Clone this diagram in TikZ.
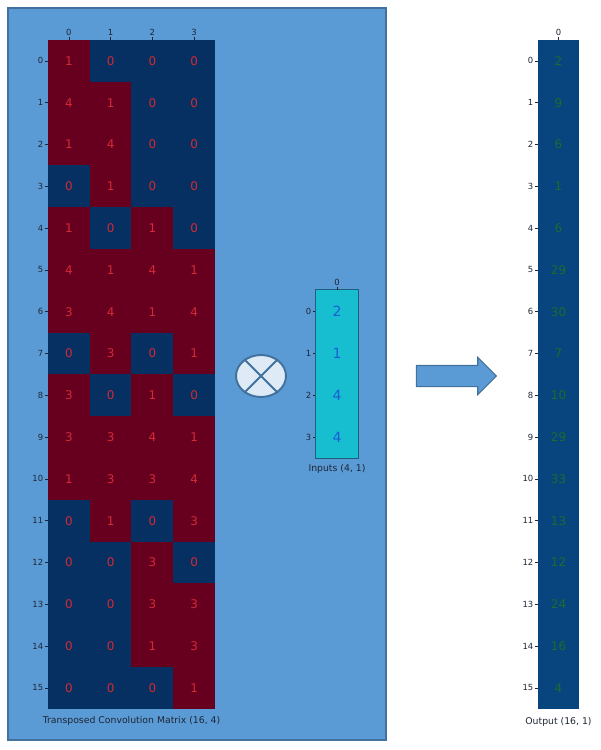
\documentclass[tikz,border=0pt]{standalone}
\usepackage{fontspec}
\setmainfont{DejaVu Sans}
\usetikzlibrary{arrows.meta,
positioning,
shapes.geometric,
shapes.arrows,
calc}

\definecolor{panelblue}{HTML}{5B9BD5}
\definecolor{panelline}{HTML}{41719C}
\definecolor{cellred}{HTML}{67001F}
\definecolor{cellblue}{HTML}{053061}
\definecolor{valred}{HTML}{D42A35}
\definecolor{inputcyan}{HTML}{17BECF}
\definecolor{inputline}{HTML}{1F5F7A}
\definecolor{valblue}{HTML}{1A5FD6}
\definecolor{outblue}{HTML}{08457E}
\definecolor{valgreen}{HTML}{1E6B2E}
\definecolor{ticktext}{HTML}{1E2535}
\definecolor{mullight}{HTML}{DEEBF7}

\begin{document}
\begin{tikzpicture}[
				x=0.02cm, y=-0.02cm,
				cell/.style={
					rectangle,
					inner sep=0pt,
					minimum width=0.84cm,
					minimum height=0.84cm,
					text=valred,
					font=\fontsize{6.8}{7}\selectfont
				},
				incell/.style={
					rectangle,
					inner sep=0pt,
					minimum width=0.84cm,
					minimum height=0.84cm,
					fill=inputcyan,
					text=valblue,
					font=\fontsize{8}{9}\selectfont
				},
				outcell/.style={
					rectangle,
					inner sep=0pt,
					minimum width=0.82cm,
					minimum height=0.84cm,
					fill=outblue,
					text=valgreen,
					font=\fontsize{6.8}{7}\selectfont
				},
				ticklabel/.style={
					text=ticktext,
					inner sep=0.6pt,
					font=\fontsize{4.8}{5}\selectfont
				},
				tickmark/.style={draw=ticktext, line width=0.3pt},
				caption/.style={
					text=ticktext,
					inner sep=0pt,
					font=\fontsize{5.3}{6}\selectfont
				}
				]
				\useasboundingbox (0,0) rectangle (600,750);
				
				% background panel
				\path[fill=panelblue, draw=panelline, line width=0.6pt] (8,8) rectangle (386,740);
				
				% transposed convolution matrix
				\foreach \vals [count=\r from 0] in {{1,0,0,0},{4,1,0,0},{1,4,0,0},{0,1,0,0},
					{1,0,1,0},{4,1,4,1},{3,4,1,4},{0,3,0,1},
					{3,0,1,0},{3,3,4,1},{1,3,3,4},{0,1,0,3},
					{0,0,3,0},{0,0,3,3},{0,0,1,3},{0,0,0,1}} {
					\foreach \v [count=\c from 0] in \vals {
						\ifnum\v=0 \def\cellcol{cellblue}\else\def\cellcol{cellred}\fi
						\node[cell, fill=\cellcol] (m-\r-\c) at ({48+(\c+0.5)*41.75}, {40+(\r+0.5)*41.8}) {\v};
					}
					\draw[tickmark] (m-\r-0.west) -- ++(-3,0) node[ticklabel, left] {\r};
				}
				\foreach \c in {0,...,3} {
					\draw[tickmark] (m-0-\c.north) -- ++(0,-3) node[ticklabel, above] {\c};
				}
				\node[caption] (mcap) at (131.5, 721) {Transposed Convolution Matrix (16, 4)};
				
				% multiply sign
				\node[ellipse, draw=panelline, fill=mullight, line width=1.1pt,
					minimum width=1cm, minimum height=0.84cm, inner sep=0pt] (mul) at (261,376) {};
				\draw[panelline, line width=1.1pt] (mul.45) -- (mul.225) (mul.135) -- (mul.315);
				
				% inputs
				\foreach \v [count=\r from 0] in {2,1,4,4} {
					\node[incell] (in-\r) at (337, {290+(\r+0.5)*42}) {\v};
					\draw[tickmark] (in-\r.west) -- ++(-3,0) node[ticklabel, left] {\r};
				}
				\draw[inputline, line width=0.5pt] (in-0.north west) rectangle (in-3.south east);
				\draw[tickmark] (in-0.north) -- ++(0,-3) node[ticklabel, above] {0};
				\node[caption, below=1.2mm of in-3.south] (incap) {Inputs (4, 1)};
				
				% result arrow
				\node[single arrow, draw=panelline, fill=panelblue, line width=0.6pt,
					minimum height=1.6cm, inner xsep=0pt, inner ysep=0.2cm,
					single arrow head extend=0.16cm] (flow) at (451,376) {};
				
				% output
				\foreach \v [count=\r from 0] in {2,9,6,1,6,29,30,7,10,29,33,13,12,24,16,4} {
					\node[outcell] (out-\r) at (558.5, {40+(\r+0.5)*41.8}) {\v};
					\draw[tickmark] (out-\r.west) -- ++(-3,0) node[ticklabel, left] {\r};
				}
				\draw[tickmark] (out-0.north) -- ++(0,-3) node[ticklabel, above] {0};
				\node[caption] (outcap) at (558.5, 722) {Output (16, 1)};
			\end{tikzpicture}
\end{document}
